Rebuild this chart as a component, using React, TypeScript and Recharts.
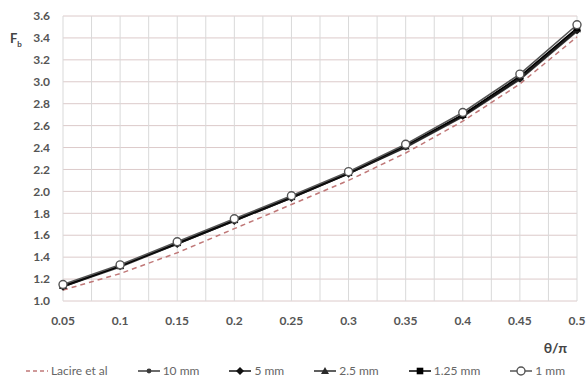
import React from 'react';
import { LineChart, Line, XAxis, YAxis, CartesianGrid, Legend } from 'recharts';

const thetaOverPi = [0.05, 0.1, 0.15, 0.2, 0.25, 0.3, 0.35, 0.4, 0.45, 0.5];
const lacire = [1.1, 1.25, 1.44, 1.66, 1.88, 2.1, 2.35, 2.64, 2.98, 3.41];
const mm10 = [1.13, 1.31, 1.52, 1.73, 1.94, 2.16, 2.4, 2.68, 3.02, 3.46];
const mm5 = [1.13, 1.32, 1.52, 1.73, 1.94, 2.16, 2.41, 2.69, 3.03, 3.47];
const mm2_5 = [1.14, 1.32, 1.53, 1.74, 1.95, 2.17, 2.41, 2.7, 3.04, 3.48];
const mm1_25 = [1.14, 1.32, 1.53, 1.74, 1.95, 2.17, 2.42, 2.7, 3.05, 3.49];
const mm1 = [1.15, 1.33, 1.54, 1.75, 1.96, 2.18, 2.43, 2.72, 3.07, 3.52];

const xTicks = [0.05, 0.075, 0.1, 0.125, 0.15, 0.175, 0.2, 0.225, 0.25, 0.275, 0.3, 0.325, 0.35, 0.375, 0.4, 0.425, 0.45, 0.475, 0.5];
const xLabels = ['0.05', '', '0.1', '', '0.15', '', '0.2', '', '0.25', '', '0.3', '', '0.35', '', '0.4', '', '0.45', '', '0.5'];
const yTicks = [1.0, 1.2, 1.4, 1.6, 1.8, 2.0, 2.2, 2.4, 2.6, 2.8, 3.0, 3.2, 3.4, 3.6];

const data = thetaOverPi.map((t, i) => ({
  t,
  lacire: lacire[i],
  mm10: mm10[i],
  mm5: mm5[i],
  mm2_5: mm2_5[i],
  mm1_25: mm1_25[i],
  mm1: mm1[i],
}));

const FONT = 'Lato, "Open Sans", sans-serif';

type Shape = 'dot' | 'diamond' | 'triangle' | 'square' | 'circle' | 'none';

const Marker = ({ cx, cy, shape, color }: { cx: number; cy: number; shape: Shape; color: string }) => {
  if (cx == null || cy == null) return <g />;
  switch (shape) {
    case 'dot':
      return <circle cx={cx} cy={cy} r={2.4} fill={color} />;
    case 'diamond':
      return <polygon points={`${cx},${cy - 4} ${cx + 4},${cy} ${cx},${cy + 4} ${cx - 4},${cy}`} fill={color} />;
    case 'triangle':
      return <polygon points={`${cx},${cy - 4} ${cx + 4},${cy + 3} ${cx - 4},${cy + 3}`} fill={color} />;
    case 'square':
      return <rect x={cx - 3.3} y={cy - 3.3} width={6.6} height={6.6} fill={color} />;
    case 'circle':
      return <circle cx={cx} cy={cy} r={4} fill="#fff" stroke={color} strokeWidth={1.4} />;
    default:
      return <g />;
  }
};

const seriesDefs: { key: string; name: string; color: string; shape: Shape }[] = [
  { key: 'mm10', name: '10 mm', color: '#3a3a3a', shape: 'dot' },
  { key: 'mm5', name: '5 mm', color: '#111', shape: 'diamond' },
  { key: 'mm2_5', name: '2.5 mm', color: '#2a2a2a', shape: 'triangle' },
  { key: 'mm1_25', name: '1.25 mm', color: '#000', shape: 'square' },
  { key: 'mm1', name: '1 mm', color: '#555', shape: 'circle' },
];

const LegendContent = () => {
  const items = [{ name: 'Lacire et al', color: '#c07878', shape: 'none' as Shape, dashed: true }, ...seriesDefs.map((s) => ({ ...s, dashed: false }))];
  return (
    <div style={{ display: 'flex', justifyContent: 'center', gap: 30, fontFamily: FONT, fontSize: 12, color: '#666', marginLeft: 14 }}>
      {items.map((it) => (
        <div key={it.name} style={{ display: 'flex', alignItems: 'center', gap: 3 }}>
          <svg width={22} height={10}>
            <line x1={0} y1={5} x2={22} y2={5} stroke={it.color} strokeWidth={1.5} strokeDasharray={it.dashed ? '4 3' : undefined} />
            <Marker cx={11} cy={5} shape={it.shape} color={it.color} />
          </svg>
          <span>{it.name}</span>
        </div>
      ))}
    </div>
  );
};

export default function App() {
  return (
    <div style={{ position: 'absolute', left: 0, top: 0, width: 587, height: 382, background: '#fff' }}>
      <div style={{ position: 'absolute', left: 10, top: 30, fontFamily: FONT, fontSize: 13, fontWeight: 'bold', color: '#444' }}>
        F<sub style={{ fontSize: 8 }}>b</sub>
      </div>
      <LineChart width={587} height={382} data={data} margin={{ top: 16, right: 10, bottom: 4, left: 0 }}>
        <CartesianGrid vertical={false} stroke="#dccaca" />
        <CartesianGrid horizontal={false} stroke="#d9d9d9" />
        <XAxis
          dataKey="t"
          type="number"
          domain={[0.05, 0.5]}
          ticks={xTicks}
          interval={0}
          tickFormatter={(_v: number, i: number) => xLabels[i]}
          axisLine={false}
          tickLine={false}
          tickSize={0}
          tickMargin={15}
          height={62}
          tick={{ fill: '#555', fontSize: 12, fontWeight: 'bold', fontFamily: FONT }}
          label={{ value: 'θ/π', position: 'insideBottomRight', offset: 10, fill: '#444', fontSize: 14, fontWeight: 'bold', fontFamily: FONT }}
        />
        <YAxis
          type="number"
          domain={[1, 3.6]}
          ticks={yTicks}
          interval={0}
          width={63}
          axisLine={false}
          tickLine={false}
          tickSize={0}
          tickMargin={13}
          tickFormatter={(v: number) => v.toFixed(1)}
          tick={{ fill: '#555', fontSize: 12, fontWeight: 'bold', fontFamily: FONT }}
        />
        <Legend verticalAlign="bottom" content={<LegendContent />} />
        <Line
          dataKey="lacire"
          name="Lacire et al"
          stroke="#c07878"
          strokeWidth={1.5}
          strokeDasharray="5 4"
          dot={false}
          isAnimationActive={false}
        />
        {seriesDefs.map((s) => (
          <Line
            key={s.key}
            dataKey={s.key}
            name={s.name}
            stroke={s.color}
            strokeWidth={1.6}
            dot={(p: any) => <Marker key={`${s.key}-${p.index}`} cx={p.cx} cy={p.cy} shape={s.shape} color={s.color} />}
            isAnimationActive={false}
          />
        ))}
      </LineChart>
    </div>
  );
}
